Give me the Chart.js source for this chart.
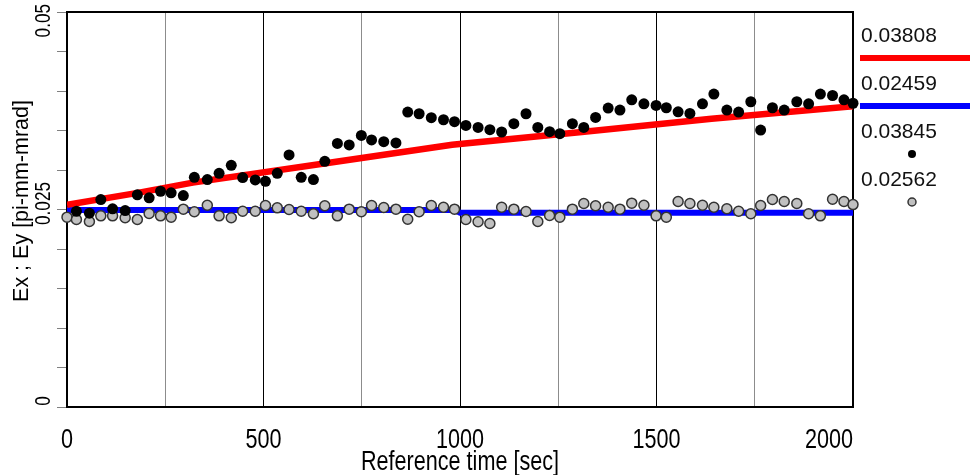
<!DOCTYPE html>
<html>
<head>
<meta charset="utf-8">
<script src="https://cdn.jsdelivr.net/npm/chart.js@4"></script>
<style>
  body { margin: 0; background: #fff; }
  #wrap { width: 970px; height: 475px; }
</style>
</head>
<body>
<div id="wrap"><canvas id="c" width="970" height="475"></canvas></div>
<script>
// sample times (sec)
const timeSec = [0, 24, 57, 86, 116, 148, 179, 209, 238, 265, 296, 324, 357, 387, 418, 447, 479, 505, 535, 565,
  596, 627, 656, 688, 718, 749, 775, 806, 837, 867, 896, 927, 958, 986, 1015, 1046, 1076, 1106, 1137, 1168,
  1198, 1228, 1254, 1286, 1315, 1345, 1377, 1407, 1437, 1468, 1499, 1525, 1555, 1585, 1617, 1646, 1679, 1709, 1740, 1765,
  1795, 1825, 1857, 1887, 1917, 1948, 1977, 2000];

// measured Ex (black dots)
const exMeasured = [null, 0.02478, 0.02453, 0.02626, 0.02509, 0.02487, 0.02686, 0.02648, 0.02731, 0.02711,
  0.02677, 0.02908, 0.02879, 0.02958, 0.03059, 0.02904, 0.02875, 0.02857, 0.02958, 0.03191,
  0.02908, 0.02879, 0.03110, 0.03337, 0.03317, 0.03438, 0.03380, 0.03359, 0.03342, 0.03733,
  0.03712, 0.03662, 0.03636, 0.03611, 0.03564, 0.03539, 0.03510, 0.03481, 0.03586, 0.03712,
  0.03539, 0.03485, 0.03460, 0.03586, 0.03539, 0.03665, 0.03784, 0.03759, 0.03889, 0.03838,
  0.03817, 0.03788, 0.03737, 0.03716, 0.03838, 0.03961, 0.03759, 0.03733, 0.03864, 0.03506,
  0.03788, 0.03759, 0.03864, 0.03838, 0.03961, 0.03943, 0.03889, 0.03845];

// measured Ey (grey dots)
const eyMeasured = [0.02403, 0.02374, 0.02348, 0.02420, 0.02420, 0.02395, 0.02374, 0.02449, 0.02420, 0.02403,
  0.02504, 0.02472, 0.02554, 0.02420, 0.02395, 0.02478, 0.02478, 0.02550, 0.02521, 0.02500,
  0.02478, 0.02446, 0.02547, 0.02420, 0.02504, 0.02471, 0.02550, 0.02525, 0.02504, 0.02377,
  0.02471, 0.02550, 0.02529, 0.02504, 0.02374, 0.02345, 0.02323, 0.02529, 0.02504, 0.02475,
  0.02348, 0.02424, 0.02403, 0.02504, 0.02576, 0.02547, 0.02529, 0.02504, 0.02580, 0.02554,
  0.02420, 0.02403, 0.02601, 0.02576, 0.02554, 0.02529, 0.02509, 0.02478, 0.02446, 0.02550,
  0.02626, 0.02601, 0.02576, 0.02446, 0.02420, 0.02630, 0.02601, 0.02562];

// fitted curves
const exFitTime = [0, 180, 320, 650, 980, 1310, 1640, 2000];
const exFitValue = [0.0256, 0.0271, 0.0284, 0.0308, 0.0332, 0.0348, 0.0365, 0.03808];
const eyFitTime = [0, 985, 1000, 2000];
const eyFitValue = [0.02495, 0.02495, 0.02459, 0.02459];

const xTickValues = [0, 500, 1000, 1500, 2000];
const yTickValues = [0, 0.025, 0.05];
const yTickLabels = ['0', '0.025', '0.05'];
const xTitle = 'Reference time [sec]';
const yTitle = 'Ex ; Ey [pi-mm-mrad]';

function pts(xs, ys) {
  return xs.map((x, i) => ({ x: x, y: ys[i] }));
}

const lastOf = a => a[a.length - 1];

const legendItems = [
  { text: lastOf(exFitValue).toFixed(5), kind: 'line', color: '#ff0000' },
  { text: lastOf(eyFitValue).toFixed(5), kind: 'line', color: '#0000ff' },
  { text: lastOf(exMeasured).toFixed(5), kind: 'dot', color: '#000000' },
  { text: lastOf(eyMeasured).toFixed(5), kind: 'grey', color: '#c0c0c0' }
];

const FONT = '"Liberation Sans", Arial, sans-serif';

const frame = {
  id: 'frame',
  beforeDatasetsDraw(chart) {
    const { ctx, chartArea: a } = chart;
    ctx.save();
    ctx.strokeStyle = '#000';
    ctx.lineWidth = 2;
    ctx.strokeRect(a.left, a.top, a.right - a.left, a.bottom - a.top);
    ctx.restore();
  },
  afterDraw(chart) {
    const { ctx, chartArea: a, scales: { x, y } } = chart;
    ctx.save();
    ctx.fillStyle = '#000';
    ctx.textBaseline = 'middle';
    ctx.textAlign = 'center';

    // x tick labels (narrow)
    ctx.font = '27px ' + FONT;
    xTickValues.forEach(v => {
      const s = String(v);
      const w = ctx.measureText(s).width * 0.8;
      let cx = x.getPixelForValue(v);
      if (cx + w / 2 > a.right) cx = a.right - w / 2;
      ctx.save();
      ctx.translate(cx, 441);
      ctx.scale(0.8, 1);
      ctx.fillText(s, 0, 0);
      ctx.restore();
    });

    // x title
    ctx.save();
    ctx.translate((a.left + a.right) / 2, 463);
    ctx.scale(0.8, 1);
    ctx.fillText(xTitle, 0, 0);
    ctx.restore();

    // y tick labels, rotated
    ctx.font = '22px ' + FONT;
    yTickValues.forEach((v, i) => {
      const s = yTickLabels[i];
      const w = ctx.measureText(s).width * 0.78;
      let cy = y.getPixelForValue(v) - 6;
      if (cy - w / 2 < 4) cy = 4 + w / 2;
      ctx.save();
      ctx.translate(44, cy);
      ctx.rotate(-Math.PI / 2);
      ctx.scale(0.78, 1);
      ctx.fillText(s, 0, 0);
      ctx.restore();
    });

    // y title
    ctx.font = '21.5px ' + FONT;
    ctx.save();
    ctx.translate(22, 201);
    ctx.rotate(-Math.PI / 2);
    ctx.fillText(yTitle, 0, 0);
    ctx.restore();

    // legend at right
    ctx.font = '21px ' + FONT;
    ctx.textAlign = 'left';
    legendItems.forEach((it, i) => {
      const ty = 36 + 48 * i;
      const my = ty + 22;
      ctx.fillStyle = '#111';
      ctx.fillText(it.text, 861, ty);
      if (it.kind === 'line') {
        ctx.fillStyle = it.color;
        ctx.fillRect(860, my - 3, 110, 6);
      } else {
        ctx.beginPath();
        ctx.arc(912, my, 4, 0, Math.PI * 2);
        ctx.fillStyle = it.color;
        ctx.fill();
        if (it.kind === 'grey') {
          ctx.lineWidth = 1.5;
          ctx.strokeStyle = '#333';
          ctx.stroke();
        }
      }
    });
    ctx.restore();
  }
};

new Chart(document.getElementById('c'), {
  type: 'scatter',
  data: {
    datasets: [
      {
        label: 'Ex measured',
        data: pts(timeSec, exMeasured),
        backgroundColor: '#000',
        borderColor: '#000',
        borderWidth: 0,
        pointRadius: 5.5,
        clip: false,
        order: 1
      },
      {
        label: 'Ey measured',
        data: pts(timeSec, eyMeasured),
        backgroundColor: '#c0c0c0',
        borderColor: '#333',
        borderWidth: 1.5,
        pointRadius: 5,
        clip: false,
        order: 1
      },
      {
        label: 'Ex fit',
        data: pts(exFitTime, exFitValue),
        showLine: true,
        borderColor: '#ff0000',
        borderWidth: 6.5,
        pointRadius: 0,
        order: 2
      },
      {
        label: 'Ey fit',
        data: pts(eyFitTime, eyFitValue),
        showLine: true,
        borderColor: '#0000ff',
        borderWidth: 6,
        pointRadius: 0,
        order: 2
      }
    ]
  },
  options: {
    responsive: false,
    animation: false,
    layout: { padding: { top: 12, right: 117, left: 0, bottom: 0 } },
    plugins: {
      legend: { display: false },
      tooltip: { enabled: false }
    },
    scales: {
      x: {
        type: 'linear',
        min: 0,
        max: 2000,
        afterFit(s) { s.height = 68; },
        ticks: { stepSize: 250, display: false },
        grid: {
          color: c => (c.tick && c.tick.value % 500 === 0) ? '#000' : '#8c8c8c',
          lineWidth: 1,
          drawTicks: false
        },
        border: { display: false }
      },
      y: {
        min: 0,
        max: 0.05,
        afterFit(s) { s.width = 67; },
        ticks: { stepSize: 0.005, display: false },
        grid: { drawOnChartArea: false, drawTicks: true, tickLength: 10, color: '#808080' },
        border: { display: false }
      }
    }
  },
  plugins: [frame]
});
</script>
</body>
</html>
